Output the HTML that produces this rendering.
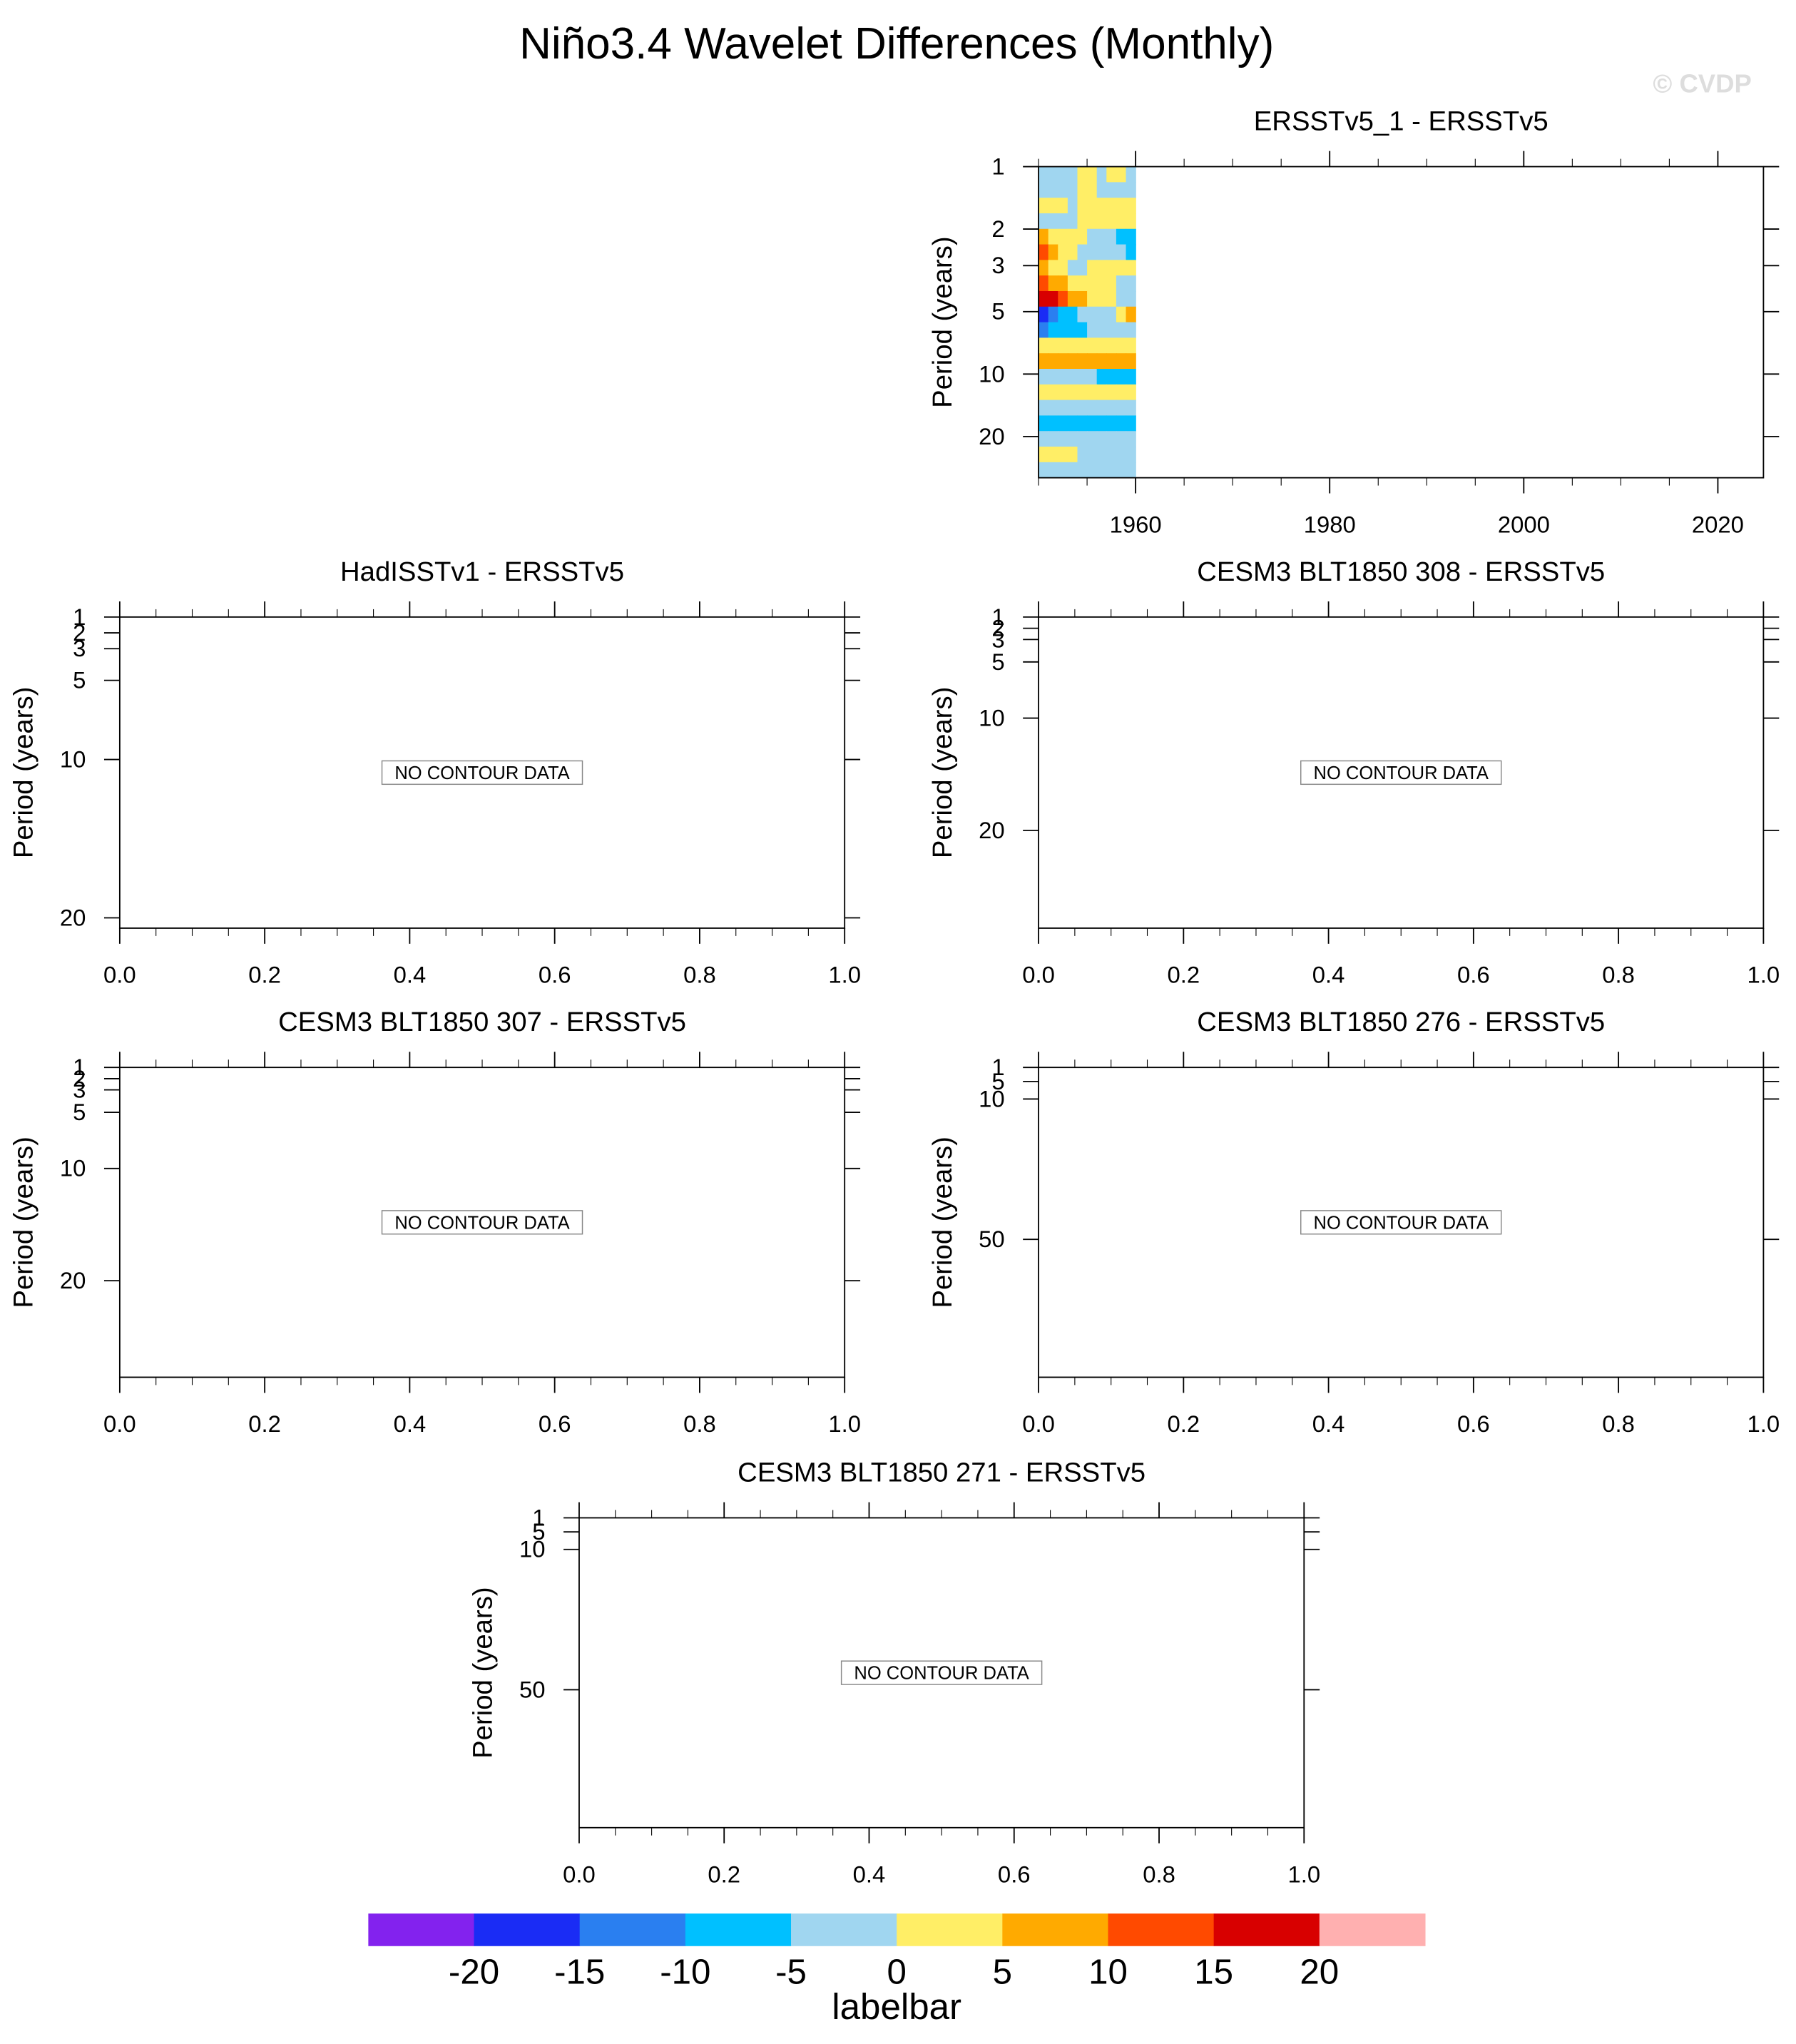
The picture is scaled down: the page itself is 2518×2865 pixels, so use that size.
<!DOCTYPE html>
<html><head><meta charset="utf-8"><style>
html,body{margin:0;padding:0;background:#fff}
svg{display:block}
text{font-family:"Liberation Sans",sans-serif}
</style></head><body>
<svg id="fig" xmlns="http://www.w3.org/2000/svg" width="2518" height="2865" viewBox="0 0 1380 1570.2" preserveAspectRatio="none">
<text x="689" y="45" font-size="34" text-anchor="middle">Niño3.4 Wavelet Differences (Monthly)</text>
<text x="1308" y="71" font-size="20" font-weight="bold" fill="#dddddd" text-anchor="middle">© CVDP</text>
</svg>
<script>
// contour colour levels
const levelColors=["#8322ee","#1a2cf5","#2a7ff0","#00c0ff","#a0d6f0","#ffee66","#ffaa00","#ff4a00","#d80000","#ffb0b0"];
const levelTicks=[-20,-15,-10,-5,0,5,10,15,20];
// wavelet difference grid (rows top->bottom in plot fraction, columns 1950-1960)
const gridYears=[1950,1951,1952,1953,1954,1955,1956,1957,1958,1959,1960];
const gridValues=[
[-2,-2,-2,-2,2,2,-2,2,2,-2],
[-2,-2,-2,-2,2,2,-2,-2,-2,-2],
[2,2,2,-2,2,2,2,2,2,2],
[-2,-2,-2,-2,2,2,2,2,2,2],
[7,2,2,2,2,-2,-2,-2,-7,-7],
[12,7,2,2,-2,-2,-2,-2,-2,-7],
[7,2,2,-2,-2,2,2,2,2,2],
[12,7,7,2,2,2,2,2,-2,-2],
[17,17,12,7,7,2,2,2,-2,-2],
[-17,-12,-7,-7,-2,-2,-2,-2,2,7],
[-12,-7,-7,-7,-7,-2,-2,-2,-2,-2],
[2,2,2,2,2,2,2,2,2,2],
[7,7,7,7,7,7,7,7,7,7],
[-2,-2,-2,-2,-2,-2,-7,-7,-7,-7],
[2,2,2,2,2,2,2,2,2,2],
[-2,-2,-2,-2,-2,-2,-2,-2,-2,-2],
[-7,-7,-7,-7,-7,-7,-7,-7,-7,-7],
[-2,-2,-2,-2,-2,-2,-2,-2,-2,-2],
[2,2,2,2,-2,-2,-2,-2,-2,-2],
[-2,-2,-2,-2,-2,-2,-2,-2,-2,-2]];
const NS="http://www.w3.org/2000/svg";
const svg=document.getElementById('fig');
function el(tag,attrs,parent){const e=document.createElementNS(NS,tag);for(const k in attrs)e.setAttribute(k,attrs[k]);(parent||svg).appendChild(e);return e;}
function colorFor(v){let i=0;while(i<levelTicks.length&&v>=levelTicks[i])i++;return levelColors[i];}

const panels=[
{title:"ERSSTv5_1 - ERSSTv5",x0:798,x1:1355,y0:128,y1:367,ylog:true,pmax:31.6,yt:[1,2,3,5,10,20],xmin:1950,xmax:2024.7,xmaj:[1960,1980,2000,2020],xminStep:5,xfmt:v=>String(v),nodata:false,contour:true},
{title:"HadISSTv1 - ERSSTv5",x0:92,x1:649,y0:474,y1:713,pmax:20.65,yt:[1,2,3,5,10,20],nodata:true},
{title:"CESM3 BLT1850 308 - ERSSTv5",x0:798,x1:1355,y0:474,y1:713,pmax:28.7,yt:[1,2,3,5,10,20],nodata:true},
{title:"CESM3 BLT1850 307 - ERSSTv5",x0:92,x1:649,y0:820,y1:1058,pmax:28.6,yt:[1,2,3,5,10,20],nodata:true},
{title:"CESM3 BLT1850 276 - ERSSTv5",x0:798,x1:1355,y0:820,y1:1058,pmax:89.3,yt:[1,5,10,50],nodata:true},
{title:"CESM3 BLT1850 271 - ERSSTv5",x0:445,x1:1002,y0:1166,y1:1404,pmax:89.3,yt:[1,5,10,50],nodata:true}
];
panels.forEach((p,pi)=>{
  const g=el('g',{});
  
  
  const xmin=p.xmin!==undefined?p.xmin:0, xmax=p.xmax!==undefined?p.xmax:1;
  const X=v=>p.x0+(v-xmin)/(xmax-xmin)*(p.x1-p.x0);
  const Y=p.ylog?(v=>p.y0+Math.log(v)/Math.log(p.pmax)*(p.y1-p.y0)):(v=>p.y0+(v-1)/(p.pmax-1)*(p.y1-p.y0));
  const cx=(p.x0+p.x1)/2, cy=(p.y0+p.y1)/2;
  const t=el('text',{x:cx,y:p.y0-28,'font-size':21,'text-anchor':'middle'},g);t.textContent=p.title;
  
  
  if(p.contour){
    const cg=el('g',{},g);
    
    
    const nr=gridValues.length, rh=(p.y1-p.y0)/nr;
    gridValues.forEach((row,ri)=>row.forEach((v,ci)=>{
      const xa=X(gridYears[ci]), xb=X(gridYears[ci+1]);
      const r=el('rect',{x:xa,y:p.y0+ri*rh,width:xb-xa+0.4,height:rh+0.4,fill:colorFor(v)},cg);
      
      
    }));
  }
  const ax=el('g',{stroke:'#000','stroke-width':1,fill:'none'},g);
  
  
  el('rect',{x:p.x0,y:p.y0,width:p.x1-p.x0,height:p.y1-p.y0},ax);
  let majors, step;
  if(p.xmaj){majors=p.xmaj;step=p.xminStep;}else{majors=[0,0.2,0.4,0.6,0.8,1.0];step=0.05;}
  for(let v=xmin;v<=xmax+1e-9;v+=step){
    const vv=Math.round(v*1000)/1000;
    const isMaj=majors.some(m=>Math.abs(m-vv)<1e-6);
    const L=isMaj?12:6;
    el('line',{x1:X(vv),x2:X(vv),y1:p.y0,y2:p.y0-L,'stroke-width':isMaj?1:0.6},ax);
    el('line',{x1:X(vv),x2:X(vv),y1:p.y1,y2:p.y1+L,'stroke-width':isMaj?1:0.6},ax);
  }
  majors.forEach(m=>{
    const lt=el('text',{x:X(m),y:p.y1+42,'font-size':18,'text-anchor':'middle'},g);
    lt.textContent=p.xfmt?p.xfmt(m):m.toFixed(1);
    
    
  });
  p.yt.forEach(v=>{
    el('line',{x1:p.x0,x2:p.x0-12,y1:Y(v),y2:Y(v)},ax);
    el('line',{x1:p.x1,x2:p.x1+12,y1:Y(v),y2:Y(v)},ax);
    const lt=el('text',{x:p.x0-26,y:Y(v)+6,'font-size':18,'text-anchor':'end'},g);
    lt.textContent=v;
    
    
  });
  const yl=el('text',{x:0,y:0,'font-size':21,'text-anchor':'middle',transform:`translate(${p.x0-67},${cy}) rotate(-90)`},g);
  yl.textContent="Period (years)";
  
  
  if(p.nodata){
    const b=el('rect',{x:cx-77,y:cy-9,width:154,height:18,fill:'#fff',stroke:'#888','stroke-width':0.8},g);
    
    
    const nt=el('text',{x:cx,y:cy+5,'font-size':14,'text-anchor':'middle'},g);
    nt.textContent="NO CONTOUR DATA";
    
    
  }
});
const lb=el('g',{});


const lbx0=283, lbw=81.2;
levelColors.forEach((c,i)=>{
  const r=el('rect',{x:lbx0+i*lbw,y:1470,width:lbw+0.3,height:25,fill:c},lb);
  
  
});
levelTicks.forEach((v,i)=>{
  const t=el('text',{x:lbx0+(i+1)*lbw,y:1524,'font-size':27,'text-anchor':'middle'},lb);
  t.textContent=v;
  
  
});
const lbt=el('text',{x:689,y:1551,'font-size':28,'text-anchor':'middle'},lb);
lbt.textContent="labelbar";


</script>
</body></html>
